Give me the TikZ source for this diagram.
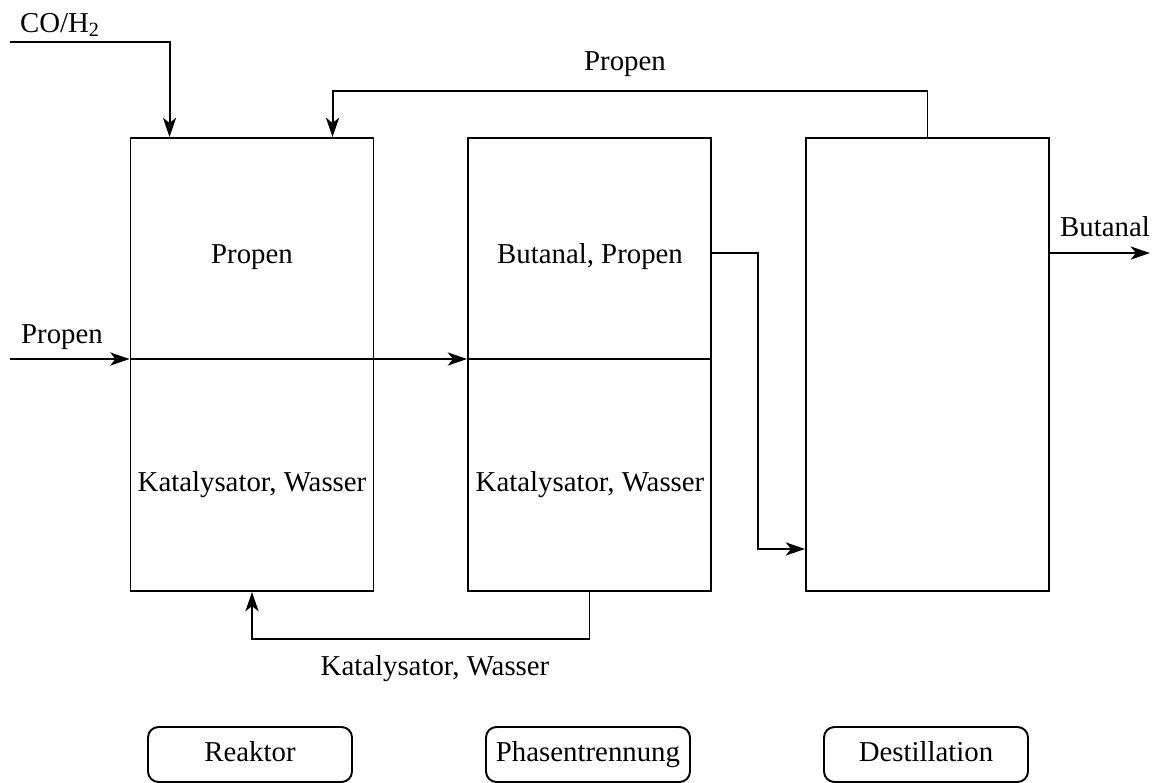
\documentclass[tikz,border=0pt]{standalone}
\usepackage{fontspec}
\setmainfont{Liberation Serif}
\usepackage{tikz}
\usetikzlibrary{arrows.meta, positioning}

\begin{document}
\begin{tikzpicture}[
  unit/.style={draw, line width=1.1pt, minimum width=4.86cm, minimum height=9.06cm},
  tag/.style={draw, line width=1.1pt, rounded corners=6pt, minimum width=4.08cm,
              minimum height=1.1cm},
  lbl/.style={font=\fontsize{16.4}{19}\selectfont, inner sep=0pt,
              text height=11.5pt, text depth=3.5pt},
  arr/.style={-{Stealth[length=11pt, width=7.5pt, inset=3pt]}, line width=1.1pt},
  ln/.style={line width=1.1pt},
]
\useasboundingbox (0,0) rectangle (23.24,-15.64);

\node[unit] (reaktor) at (5.04,-7.29) {};
\node[unit] (phase) at (11.79,-7.29) {};
\node[unit] (destill) at (18.55,-7.29) {};

\node[lbl] (rtop) at (5.04,-5.12) {Propen};
\node[lbl] (rbot) at (5.04,-9.68) {Katalysator, Wasser};
\node[lbl] (ptop) at (11.8,-5.12) {Butanal, Propen};
\node[lbl] (pbot) at (11.8,-9.68) {Katalysator, Wasser};

% feeds
\coordinate (coin) at (0.2,-0.84);
\coordinate (feedin) at (0.2,-7.18);
\node[lbl] (colbl) at (1.2,-0.5) {CO/H\textsubscript{2}};
\node[lbl] (feedlbl) at (1.24,-6.72) {Propen};
\draw[arr] (coin) -| ([xshift=0.8cm]reaktor.north west);
\draw[arr] (feedin) -- (feedin -| reaktor.west);
\draw[arr] (feedin -| reaktor.west) -- (feedin -| phase.west);
\draw[ln] (feedin -| phase.west) -- (feedin -| phase.east);

% recycles
\draw[arr] (destill.north) -- ++(0,0.92) -| ([xshift=4.06cm]reaktor.north west);
\node[lbl] (reclbl) at (12.5,-1.26) {Propen};
\draw[arr] (phase.south) -- ++(0,-0.94) -| (reaktor.south);
\node[lbl] (catlbl) at (8.7,-13.36) {Katalysator, Wasser};

% product
\draw[arr] ([yshift=-2.32cm]phase.north east) -- ++(0.92,0)
  |- ([yshift=0.86cm]destill.south west);
\draw[arr] ([yshift=-2.32cm]destill.north east) -- ++(2.0,0);
\node[lbl] (outlbl) at (22.1,-4.58) {Butanal};

\node[tag, lbl] (treak) at (5.0,-15.09) {Reaktor};
\node[tag, lbl] (tphase) at (11.76,-15.09) {Phasentrennung};
\node[tag, lbl] (tdest) at (18.52,-15.09) {Destillation};
\end{tikzpicture}
\end{document}
